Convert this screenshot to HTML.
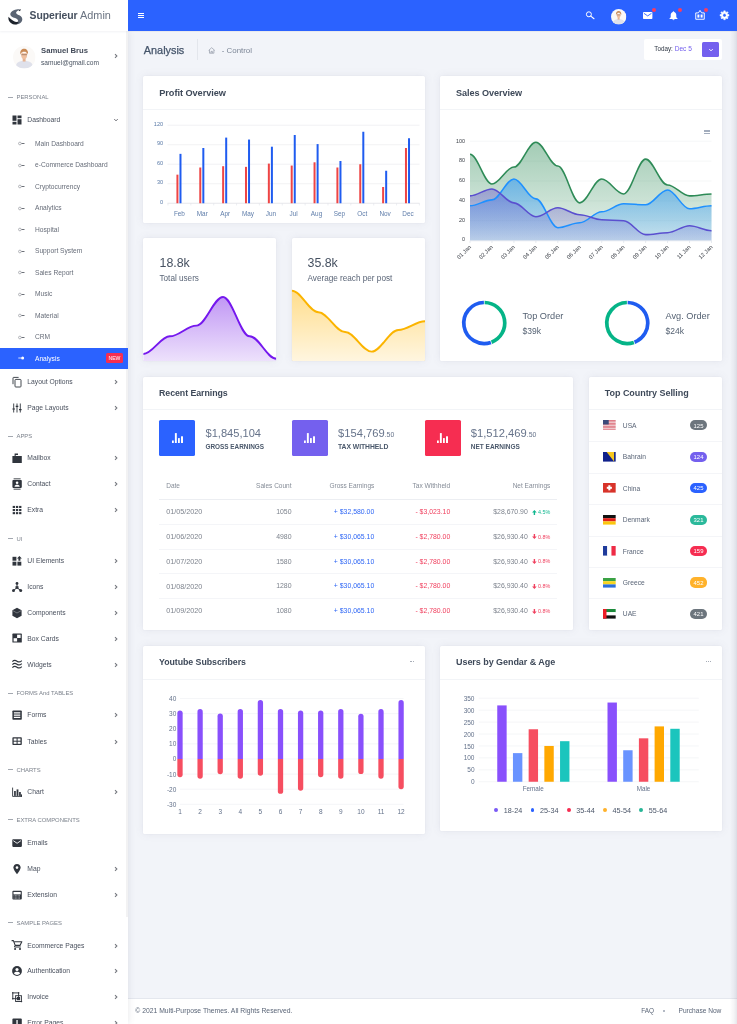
<!DOCTYPE html>
<html><head><meta charset="utf-8"><title>Superieur Admin</title>
<style>
html,body{margin:0;padding:0;}
body{width:737px;height:1024px;overflow:hidden;position:relative;background:#f2f4f9;font-family:"Liberation Sans", sans-serif;}
div{box-sizing:border-box;}
.card{position:absolute;background:#fff;border-radius:1.5px;box-shadow:0 0 9px rgba(105,112,140,0.10),0 0 1.5px rgba(105,112,140,0.10);}
svg{position:absolute;overflow:visible;}
</style></head><body><div id="root" style="position:absolute;left:0;top:0;width:737px;height:1024px;overflow:hidden;will-change:transform;">
<div style="position:absolute;left:729.50px;top:31.00px;width:7.50px;height:993.00px;background:linear-gradient(to right, rgba(60,60,90,0) 0%, rgba(60,60,90,0.03) 30%, rgba(60,60,90,0.05) 55%, rgba(60,60,90,0.13) 100%);"></div>
<div style="position:absolute;left:128.00px;top:998.00px;width:609.00px;height:26.00px;background:#fff;border-top:1px solid #e4e7ee;"></div>
<div style="position:absolute;top:1007px;font-size:6.8px;line-height:7px;color:#5a6577;white-space:nowrap;left:135.30px;">© 2021 Multi-Purpose Themes. All Rights Reserved.</div>
<div style="position:absolute;top:1007px;font-size:6.4px;line-height:7px;color:#5a6577;white-space:nowrap;left:641.30px;">FAQ</div>
<div style="position:absolute;left:663.40px;top:1010.40px;width:1.30px;height:1.30px;background:#a7aebb;border-radius:50%;"></div>
<div style="position:absolute;top:1007px;font-size:6.6px;line-height:7px;color:#5a6577;white-space:nowrap;left:678.50px;">Purchase Now</div>
<div style="position:absolute;left:729.50px;top:998.00px;width:7.50px;height:26.00px;background:linear-gradient(to right, rgba(60,60,90,0) 0%, rgba(60,60,90,0.03) 30%, rgba(60,60,90,0.05) 55%, rgba(60,60,90,0.13) 100%);"></div>
<div style="position:absolute;left:0.00px;top:31.00px;width:128.00px;height:993.00px;background:#fff;box-shadow:1px 0 6px rgba(90,95,115,0.12);"></div>
<div style="position:absolute;left:126.10px;top:31.00px;width:1.50px;height:885.80px;background:#f2f2f3;"></div>
<div style="position:absolute;left:128.00px;top:30.60px;width:609.00px;height:1.30px;background:rgba(110,100,80,0.07);"></div>
<div style="position:absolute;left:128.00px;top:0.00px;width:609.00px;height:30.80px;background:#2b62ff;"></div>
<div style="position:absolute;left:0.00px;top:0.00px;width:128.00px;height:30.80px;background:#fff;box-shadow:0 1px 2px rgba(120,130,160,0.10);"></div>
<svg style="left:8px;top:8.5px" width="15" height="16" viewBox="0 0 15 16">
<path d="M12.6 0.3 C8.6 -0.1 3.8 1.2 2.6 4.0 C1.6 6.4 3.6 7.9 6.2 8.8 C8.4 9.6 10.2 10.4 10.2 12.2 C10.2 13.8 8.8 14.8 7.0 15.2 C10.6 15.9 14.0 13.9 14.3 10.6 C14.6 7.6 11.8 6.4 9.6 5.4 C7.2 4.3 7.6 2.2 12.6 0.3 Z" fill="#5a6473"/>
<path d="M0.5 7.8 C-0.2 11.6 2.4 15.0 6.4 15.5 C8.8 15.8 10.4 14.4 10.5 12.4 C9.2 13.3 7.2 12.9 5.2 11.7 C3.2 10.5 1.6 9.4 0.5 7.8 Z" fill="#1d232c"/>
<path d="M10.4 1.5 L13.0 -0.1 L12.0 2.3 Z" fill="#2a313c"/>
</svg>
<div style="position:absolute;top:9px;font-size:10.9px;line-height:12px;color:#454f5e;white-space:nowrap;left:29.50px;"><b style="font-size:10.4px;letter-spacing:-0.05px">Superieur</b> <span style="color:#6b7482">Admin</span></div>
<div style="position:absolute;left:138.00px;top:13.10px;width:6.00px;height:1.10px;background:#fff;"></div>
<div style="position:absolute;left:138.00px;top:15.10px;width:6.00px;height:1.10px;background:#fff;"></div>
<div style="position:absolute;left:138.00px;top:17.10px;width:6.00px;height:1.10px;background:#fff;"></div>
<svg style="left:585px;top:10px" width="12" height="12" viewBox="0 0 12 12"><circle cx="3.9" cy="4.3" r="2.5" fill="none" stroke="#fff" stroke-width="1.0"/><path d="M5.8 6.1 L9.0 8.7" stroke="#fff" stroke-width="1.15" stroke-linecap="round"/></svg>
<svg style="left:611.10px;top:8.50px" width="15.40" height="15.40" viewBox="0 0 22 22">
<defs><clipPath id="av1"><circle cx="11" cy="11" r="11"/></clipPath></defs>
<g clip-path="url(#av1)"><rect width="22" height="22" fill="#fbf9f7"/>
<path d="M2.5 22 L3.2 18.2 C3.6 16.4 5.2 15.4 7.6 14.9 L9.4 14.4 H12.6 L14.4 14.9 C16.8 15.4 18.6 16.4 19 18.2 L19.8 22 Z" fill="#dfe1eb"/>
<rect x="9.5" y="11.4" width="2.8" height="3.8" fill="#e6b392"/>
<ellipse cx="10.9" cy="8.7" rx="2.9" ry="3.8" fill="#efc0a0"/>
<path d="M7.1 8.6 C6.6 4.6 8.6 2.8 10.9 2.8 C13.2 2.8 15.2 4.6 14.7 8.6 C14.2 6.6 13 5.9 10.9 5.9 C8.8 5.9 7.6 6.6 7.1 8.6 Z" fill="#c98a55"/>
<rect x="9.1" y="5.5" width="3.6" height="1.5" rx="0.6" fill="#fff" opacity="0.9"/>
<path d="M8.2 8.5 H13.6" stroke="#7a5844" stroke-width="0.55"/>
</g></svg>
<svg style="left:642.8px;top:12.1px" width="9.4" height="6.9" viewBox="0 0 9.4 6.9"><rect width="9.4" height="6.9" rx="0.7" fill="#fff"/><path d="M0.9 1.3 L4.7 3.9 L8.5 1.3" fill="none" stroke="#2b62ff" stroke-width="0.9"/></svg>
<svg style="left:668.8px;top:10.9px" width="9" height="9.2" viewBox="0 0 9 9.2"><path d="M4.5 0.2 C5 0.2 5.2 0.6 5.2 1.0 C6.6 1.4 7.3 2.6 7.3 4.2 L7.3 6.2 L8.5 7.4 L8.5 7.9 L0.5 7.9 L0.5 7.4 L1.7 6.2 L1.7 4.2 C1.7 2.6 2.4 1.4 3.8 1.0 C3.8 0.6 4 0.2 4.5 0.2 Z M3.5 8.3 L5.5 8.3 C5.5 8.9 5.05 9.2 4.5 9.2 C3.95 9.2 3.5 8.9 3.5 8.3 Z" fill="#fff"/></svg>
<svg style="left:694.6px;top:10px" width="10" height="10" viewBox="0 0 10 10"><path d="M0.75 2.9 H3.4 L5 0.4 L6.6 2.9 H9.25 V9.25 H0.75 Z" fill="none" stroke="#fff" stroke-width="0.95" stroke-linejoin="miter"/><rect x="2.4" y="4.5" width="2" height="3.1" fill="#fff"/><rect x="5.6" y="4.5" width="2" height="3.1" fill="#fff"/></svg>
<div style="position:absolute;left:651.9px;top:7.9px;width:4.2px;height:4.2px;border-radius:50%;background:#fb3c5f"></div>
<div style="position:absolute;left:677.9px;top:7.9px;width:4.2px;height:4.2px;border-radius:50%;background:#fb3c5f"></div>
<div style="position:absolute;left:703.9px;top:7.9px;width:4.2px;height:4.2px;border-radius:50%;background:#fb3c5f"></div>
<svg style="left:0;top:0" width="737" height="40"><path d="M728.93 14.53 L728.93 16.07 L727.74 16.08 L727.34 17.04 L728.18 17.89 L727.09 18.98 L726.24 18.14 L725.28 18.54 L725.27 19.73 L723.73 19.73 L723.72 18.54 L722.76 18.14 L721.91 18.98 L720.82 17.89 L721.66 17.04 L721.26 16.08 L720.07 16.07 L720.07 14.53 L721.26 14.52 L721.66 13.56 L720.82 12.71 L721.91 11.62 L722.76 12.46 L723.72 12.06 L723.73 10.87 L725.27 10.87 L725.28 12.06 L726.24 12.46 L727.09 11.62 L728.18 12.71 L727.34 13.56 L727.74 14.52 Z M726.20 15.30 A1.7 1.7 0 1 0 722.80 15.30 A1.7 1.7 0 1 0 726.20 15.30 Z" fill="#fff" fill-rule="evenodd" stroke="#fff" stroke-width="0.5" stroke-linejoin="round"/></svg>
<svg style="left:12.75px;top:45.75px" width="22.50" height="22.50" viewBox="0 0 22 22">
<defs><clipPath id="av2"><circle cx="11" cy="11" r="11"/></clipPath></defs>
<g clip-path="url(#av2)"><rect width="22" height="22" fill="#fbf9f7"/>
<path d="M2.5 22 L3.2 18.2 C3.6 16.4 5.2 15.4 7.6 14.9 L9.4 14.4 H12.6 L14.4 14.9 C16.8 15.4 18.6 16.4 19 18.2 L19.8 22 Z" fill="#dfe1eb"/>
<rect x="9.5" y="11.4" width="2.8" height="3.8" fill="#e6b392"/>
<ellipse cx="10.9" cy="8.7" rx="2.9" ry="3.8" fill="#efc0a0"/>
<path d="M7.1 8.6 C6.6 4.6 8.6 2.8 10.9 2.8 C13.2 2.8 15.2 4.6 14.7 8.6 C14.2 6.6 13 5.9 10.9 5.9 C8.8 5.9 7.6 6.6 7.1 8.6 Z" fill="#c98a55"/>
<rect x="9.1" y="5.5" width="3.6" height="1.5" rx="0.6" fill="#fff" opacity="0.9"/>
<path d="M8.2 8.5 H13.6" stroke="#7a5844" stroke-width="0.55"/>
</g></svg>
<div style="position:absolute;top:46px;font-size:7.7px;line-height:9px;color:#444c5a;white-space:nowrap;font-weight:bold;left:41.00px;">Samuel Brus</div>
<div style="position:absolute;top:59px;font-size:6.6px;line-height:7px;color:#4b5563;white-space:nowrap;left:41.00px;">samuel@gmail.com</div>
<svg style="left:114.30px;top:53.20px" width="4" height="6" viewBox="0 0 4 6"><path d="M1 1.2 L2.9 3 L1 4.8" fill="none" stroke="#74777e" stroke-width="1.05"/></svg>
<div style="position:absolute;left:8.30px;top:96.60px;width:4.50px;height:0.80px;background:#a3a8b0;"></div>
<div style="position:absolute;top:94px;font-size:5.9px;line-height:6px;color:#7d838d;white-space:nowrap;left:16.50px;">PERSONAL</div>
<svg style="left:11.50px;top:114.80px" width="10" height="10" viewBox="0 0 10 10" fill="#30353d"><rect x="0.5" y="0.5" width="4" height="5.3"/><rect x="0.5" y="6.8" width="4" height="2.7"/><rect x="5.5" y="0.5" width="4" height="2.7"/><rect x="5.5" y="4.2" width="4" height="5.3"/></svg>
<div style="position:absolute;top:116px;font-size:6.75px;line-height:7px;color:#4a515e;white-space:nowrap;left:27.30px;">Dashboard</div>
<svg style="left:113.00px;top:117.60px" width="6" height="4" viewBox="0 0 6 4"><path d="M1.2 1 L3 2.9 L4.8 1" fill="none" stroke="#5d6068" stroke-width="0.85"/></svg>
<svg style="left:17.7px;top:141.10px" width="7" height="5" viewBox="0 0 7 5"><circle cx="1.9" cy="2.5" r="1.35" fill="none" stroke="#8e9299" stroke-width="0.65"/><path d="M3.5 2.5 H6.5" stroke="#6c7078" stroke-width="1.0"/></svg>
<div style="position:absolute;top:140px;font-size:6.65px;line-height:7px;color:#676d79;white-space:nowrap;left:35.00px;">Main Dashboard</div>
<svg style="left:17.7px;top:162.60px" width="7" height="5" viewBox="0 0 7 5"><circle cx="1.9" cy="2.5" r="1.35" fill="none" stroke="#8e9299" stroke-width="0.65"/><path d="M3.5 2.5 H6.5" stroke="#6c7078" stroke-width="1.0"/></svg>
<div style="position:absolute;top:161px;font-size:6.65px;line-height:7px;color:#676d79;white-space:nowrap;left:35.00px;">e-Commerce Dashboard</div>
<svg style="left:17.7px;top:184.10px" width="7" height="5" viewBox="0 0 7 5"><circle cx="1.9" cy="2.5" r="1.35" fill="none" stroke="#8e9299" stroke-width="0.65"/><path d="M3.5 2.5 H6.5" stroke="#6c7078" stroke-width="1.0"/></svg>
<div style="position:absolute;top:183px;font-size:6.65px;line-height:7px;color:#676d79;white-space:nowrap;left:35.00px;">Cryptocurrency</div>
<svg style="left:17.7px;top:205.60px" width="7" height="5" viewBox="0 0 7 5"><circle cx="1.9" cy="2.5" r="1.35" fill="none" stroke="#8e9299" stroke-width="0.65"/><path d="M3.5 2.5 H6.5" stroke="#6c7078" stroke-width="1.0"/></svg>
<div style="position:absolute;top:204px;font-size:6.65px;line-height:7px;color:#676d79;white-space:nowrap;left:35.00px;">Analytics</div>
<svg style="left:17.7px;top:227.10px" width="7" height="5" viewBox="0 0 7 5"><circle cx="1.9" cy="2.5" r="1.35" fill="none" stroke="#8e9299" stroke-width="0.65"/><path d="M3.5 2.5 H6.5" stroke="#6c7078" stroke-width="1.0"/></svg>
<div style="position:absolute;top:226px;font-size:6.65px;line-height:7px;color:#676d79;white-space:nowrap;left:35.00px;">Hospital</div>
<svg style="left:17.7px;top:248.60px" width="7" height="5" viewBox="0 0 7 5"><circle cx="1.9" cy="2.5" r="1.35" fill="none" stroke="#8e9299" stroke-width="0.65"/><path d="M3.5 2.5 H6.5" stroke="#6c7078" stroke-width="1.0"/></svg>
<div style="position:absolute;top:247px;font-size:6.65px;line-height:7px;color:#676d79;white-space:nowrap;left:35.00px;">Support System</div>
<svg style="left:17.7px;top:270.10px" width="7" height="5" viewBox="0 0 7 5"><circle cx="1.9" cy="2.5" r="1.35" fill="none" stroke="#8e9299" stroke-width="0.65"/><path d="M3.5 2.5 H6.5" stroke="#6c7078" stroke-width="1.0"/></svg>
<div style="position:absolute;top:269px;font-size:6.65px;line-height:7px;color:#676d79;white-space:nowrap;left:35.00px;">Sales Report</div>
<svg style="left:17.7px;top:291.60px" width="7" height="5" viewBox="0 0 7 5"><circle cx="1.9" cy="2.5" r="1.35" fill="none" stroke="#8e9299" stroke-width="0.65"/><path d="M3.5 2.5 H6.5" stroke="#6c7078" stroke-width="1.0"/></svg>
<div style="position:absolute;top:290px;font-size:6.65px;line-height:7px;color:#676d79;white-space:nowrap;left:35.00px;">Music</div>
<svg style="left:17.7px;top:313.10px" width="7" height="5" viewBox="0 0 7 5"><circle cx="1.9" cy="2.5" r="1.35" fill="none" stroke="#8e9299" stroke-width="0.65"/><path d="M3.5 2.5 H6.5" stroke="#6c7078" stroke-width="1.0"/></svg>
<div style="position:absolute;top:312px;font-size:6.65px;line-height:7px;color:#676d79;white-space:nowrap;left:35.00px;">Material</div>
<svg style="left:17.7px;top:334.60px" width="7" height="5" viewBox="0 0 7 5"><circle cx="1.9" cy="2.5" r="1.35" fill="none" stroke="#8e9299" stroke-width="0.65"/><path d="M3.5 2.5 H6.5" stroke="#6c7078" stroke-width="1.0"/></svg>
<div style="position:absolute;top:333px;font-size:6.65px;line-height:7px;color:#676d79;white-space:nowrap;left:35.00px;">CRM</div>
<div style="position:absolute;left:0.00px;top:347.60px;width:128.00px;height:21.20px;background:#2b62ff;"></div>
<svg style="left:18px;top:356.40px" width="7" height="4" viewBox="0 0 7 4"><path d="M0.3 2 H3.4" stroke="#fff" stroke-width="0.8"/><circle cx="4.6" cy="2" r="1.5" fill="#fff"/></svg>
<div style="position:absolute;top:355px;font-size:6.65px;line-height:7px;color:#fff;white-space:nowrap;left:35.00px;">Analysis</div>
<div style="position:absolute;left:105.90px;top:353.30px;width:17.00px;height:9.30px;background:#f62d51;border-radius:1.5px;"></div>
<div style="position:absolute;top:355px;font-size:5.1px;line-height:6px;color:#fff;white-space:nowrap;left:-35.60px;width:300px;text-align:center;">NEW</div>
<svg style="left:11.50px;top:376.60px" width="10" height="10" viewBox="0 0 10 10" fill="#30353d"><path d="M1 7.2 L1 1 Q1 0.4 1.6 0.4 L6.6 0.4" fill="none" stroke="#30353d" stroke-width="0.9"/><rect x="3" y="2.4" width="6" height="7.6" rx="0.8" fill="none" stroke="#30353d" stroke-width="0.9"/></svg>
<div style="position:absolute;top:378px;font-size:6.75px;line-height:7px;color:#4a515e;white-space:nowrap;left:27.30px;">Layout Options</div>
<svg style="left:114.30px;top:379.00px" width="4" height="6" viewBox="0 0 4 6"><path d="M1 1.2 L2.9 3 L1 4.8" fill="none" stroke="#74777e" stroke-width="1.05"/></svg>
<svg style="left:11.50px;top:402.50px" width="10" height="10" viewBox="0 0 10 10" fill="#30353d"><path d="M1.7 0.5 V9.5 M5 0.5 V9.5 M8.3 0.5 V9.5" stroke="#30353d" stroke-width="0.9" fill="none"/><path d="M0.4 6 H3 M3.7 3.3 H6.3 M7 6.6 H9.6" stroke="#30353d" stroke-width="1.2" fill="none"/></svg>
<div style="position:absolute;top:404px;font-size:6.75px;line-height:7px;color:#4a515e;white-space:nowrap;left:27.30px;">Page Layouts</div>
<svg style="left:114.30px;top:404.90px" width="4" height="6" viewBox="0 0 4 6"><path d="M1 1.2 L2.9 3 L1 4.8" fill="none" stroke="#74777e" stroke-width="1.05"/></svg>
<div style="position:absolute;left:8.30px;top:435.70px;width:4.50px;height:0.80px;background:#a3a8b0;"></div>
<div style="position:absolute;top:433px;font-size:5.9px;line-height:6px;color:#7d838d;white-space:nowrap;left:16.50px;">APPS</div>
<svg style="left:11.50px;top:453.00px" width="10" height="10" viewBox="0 0 10 10" fill="#30353d"><path d="M0.4 3 H9.8 V10 H0.4 Z M2.6 3 V0.4 H6 V1.9 H3.7 V3 Z"/></svg>
<div style="position:absolute;top:454px;font-size:6.75px;line-height:7px;color:#4a515e;white-space:nowrap;left:27.30px;">Mailbox</div>
<svg style="left:114.30px;top:455.40px" width="4" height="6" viewBox="0 0 4 6"><path d="M1 1.2 L2.9 3 L1 4.8" fill="none" stroke="#74777e" stroke-width="1.05"/></svg>
<svg style="left:11.50px;top:479.00px" width="10" height="10" viewBox="0 0 10 10" fill="#30353d"><rect x="1.6" y="-0.6" width="7" height="0.9"/><rect x="0.4" y="1.1" width="9.4" height="7.8" rx="0.8"/><rect x="1.6" y="9.7" width="7" height="0.9"/><circle cx="5.1" cy="3.8" r="1.3" fill="#fff"/><path d="M2.5 7.7 C2.5 6.2 3.8 5.8 5.1 5.8 C6.4 5.8 7.7 6.2 7.7 7.7 Z" fill="#fff"/></svg>
<div style="position:absolute;top:480px;font-size:6.75px;line-height:7px;color:#4a515e;white-space:nowrap;left:27.30px;">Contact</div>
<svg style="left:114.30px;top:481.40px" width="4" height="6" viewBox="0 0 4 6"><path d="M1 1.2 L2.9 3 L1 4.8" fill="none" stroke="#74777e" stroke-width="1.05"/></svg>
<svg style="left:11.50px;top:505.00px" width="10" height="10" viewBox="0 0 10 10" fill="#30353d"><rect x="0.7" y="0.9" width="2.3" height="2.1"/><rect x="0.7" y="4.0" width="2.3" height="2.1"/><rect x="0.7" y="7.1000000000000005" width="2.3" height="2.1"/><rect x="3.9000000000000004" y="0.9" width="2.3" height="2.1"/><rect x="3.9000000000000004" y="4.0" width="2.3" height="2.1"/><rect x="3.9000000000000004" y="7.1000000000000005" width="2.3" height="2.1"/><rect x="7.1000000000000005" y="0.9" width="2.3" height="2.1"/><rect x="7.1000000000000005" y="4.0" width="2.3" height="2.1"/><rect x="7.1000000000000005" y="7.1000000000000005" width="2.3" height="2.1"/></svg>
<div style="position:absolute;top:506px;font-size:6.75px;line-height:7px;color:#4a515e;white-space:nowrap;left:27.30px;">Extra</div>
<svg style="left:114.30px;top:507.40px" width="4" height="6" viewBox="0 0 4 6"><path d="M1 1.2 L2.9 3 L1 4.8" fill="none" stroke="#74777e" stroke-width="1.05"/></svg>
<div style="position:absolute;left:8.30px;top:538.00px;width:4.50px;height:0.80px;background:#a3a8b0;"></div>
<div style="position:absolute;top:536px;font-size:5.9px;line-height:6px;color:#7d838d;white-space:nowrap;left:16.50px;">UI</div>
<svg style="left:11.50px;top:556.00px" width="10" height="10" viewBox="0 0 10 10" fill="#30353d"><rect x="0.5" y="0.8" width="3.9" height="3.9"/><rect x="0.5" y="5.7" width="3.9" height="3.9"/><rect x="5.4" y="5.7" width="3.9" height="3.9"/><path d="M7.4 0 L9.9 2.6 H8.4 V4.7 H6.4 V2.6 H4.9 Z"/></svg>
<div style="position:absolute;top:557px;font-size:6.75px;line-height:7px;color:#4a515e;white-space:nowrap;left:27.30px;">UI Elements</div>
<svg style="left:114.30px;top:558.40px" width="4" height="6" viewBox="0 0 4 6"><path d="M1 1.2 L2.9 3 L1 4.8" fill="none" stroke="#74777e" stroke-width="1.05"/></svg>
<svg style="left:11.50px;top:581.70px" width="10" height="10" viewBox="0 0 10 10" fill="#30353d"><circle cx="5" cy="1.4" r="1.4"/><circle cx="1.5" cy="8.4" r="1.5"/><circle cx="8.7" cy="8.4" r="1.5"/><path d="M5 1.5 V5.6 M5 5.8 L1.6 8.3 M5 5.8 L8.6 8.3" stroke="#30353d" stroke-width="1.0" fill="none"/><rect x="3.5" y="4.2" width="3" height="2.6"/></svg>
<div style="position:absolute;top:583px;font-size:6.75px;line-height:7px;color:#4a515e;white-space:nowrap;left:27.30px;">Icons</div>
<svg style="left:114.30px;top:584.10px" width="4" height="6" viewBox="0 0 4 6"><path d="M1 1.2 L2.9 3 L1 4.8" fill="none" stroke="#74777e" stroke-width="1.05"/></svg>
<svg style="left:11.50px;top:607.50px" width="10" height="10" viewBox="0 0 10 10" fill="#30353d"><path d="M5 -0.2 L9.6 2.3 V7.7 L5 10.2 L0.4 7.7 V2.3 Z"/><path d="M0.9 2.7 L5 5 L9.1 2.7" stroke="#fff" stroke-width="0.6" fill="none" opacity="0.55"/></svg>
<div style="position:absolute;top:609px;font-size:6.75px;line-height:7px;color:#4a515e;white-space:nowrap;left:27.30px;">Components</div>
<svg style="left:114.30px;top:609.90px" width="4" height="6" viewBox="0 0 4 6"><path d="M1 1.2 L2.9 3 L1 4.8" fill="none" stroke="#74777e" stroke-width="1.05"/></svg>
<svg style="left:11.50px;top:633.40px" width="10" height="10" viewBox="0 0 10 10" fill="#30353d"><rect x="0.4" y="0.6" width="9.4" height="9" rx="0.6"/><rect x="5.1" y="1.7" width="3.5" height="3.3" fill="#fff"/><rect x="1.6" y="5.2" width="3.5" height="3.3" fill="#fff"/></svg>
<div style="position:absolute;top:635px;font-size:6.75px;line-height:7px;color:#4a515e;white-space:nowrap;left:27.30px;">Box Cards</div>
<svg style="left:114.30px;top:635.80px" width="4" height="6" viewBox="0 0 4 6"><path d="M1 1.2 L2.9 3 L1 4.8" fill="none" stroke="#74777e" stroke-width="1.05"/></svg>
<svg style="left:11.50px;top:659.30px" width="10" height="10" viewBox="0 0 10 10" fill="#30353d"><path d="M0.4 2.6 C1.8 1.0 3.4 1.0 5 2.2 C6.6 3.4 8.2 3.2 9.8 1.6 M0.4 5.6 C1.8 4.0 3.4 4.0 5 5.2 C6.6 6.4 8.2 6.2 9.8 4.6 M0.4 8.6 C1.8 7.0 3.4 7.0 5 8.2 C6.6 9.4 8.2 9.2 9.8 7.6" stroke="#30353d" stroke-width="1.15" fill="none"/></svg>
<div style="position:absolute;top:661px;font-size:6.75px;line-height:7px;color:#4a515e;white-space:nowrap;left:27.30px;">Widgets</div>
<svg style="left:114.30px;top:661.70px" width="4" height="6" viewBox="0 0 4 6"><path d="M1 1.2 L2.9 3 L1 4.8" fill="none" stroke="#74777e" stroke-width="1.05"/></svg>
<div style="position:absolute;left:8.30px;top:692.60px;width:4.50px;height:0.80px;background:#a3a8b0;"></div>
<div style="position:absolute;top:690px;font-size:5.9px;line-height:6px;color:#7d838d;white-space:nowrap;left:16.50px;">FORMS And TABLES</div>
<svg style="left:11.50px;top:710.00px" width="10" height="10" viewBox="0 0 10 10" fill="#30353d"><rect x="0.4" y="0.5" width="9.4" height="9.2" rx="0.8"/><path d="M1.9 2.9 H8.3 M1.9 5.1 H8.3 M1.9 7.3 H8.3" stroke="#fff" stroke-width="1.15"/></svg>
<div style="position:absolute;top:711px;font-size:6.75px;line-height:7px;color:#4a515e;white-space:nowrap;left:27.30px;">Forms</div>
<svg style="left:114.30px;top:712.40px" width="4" height="6" viewBox="0 0 4 6"><path d="M1 1.2 L2.9 3 L1 4.8" fill="none" stroke="#74777e" stroke-width="1.05"/></svg>
<svg style="left:11.50px;top:736.20px" width="10" height="10" viewBox="0 0 10 10" fill="#30353d"><rect x="0.4" y="1.2" width="9.4" height="7.8" rx="0.8"/><rect x="1.7" y="2.5" width="2.9" height="2.2" fill="#fff"/><rect x="5.6" y="2.5" width="2.9" height="2.2" fill="#fff"/><rect x="1.7" y="5.7" width="2.9" height="2.1" fill="#fff"/><rect x="5.6" y="5.7" width="2.9" height="2.1" fill="#fff"/></svg>
<div style="position:absolute;top:738px;font-size:6.75px;line-height:7px;color:#4a515e;white-space:nowrap;left:27.30px;">Tables</div>
<svg style="left:114.30px;top:738.60px" width="4" height="6" viewBox="0 0 4 6"><path d="M1 1.2 L2.9 3 L1 4.8" fill="none" stroke="#74777e" stroke-width="1.05"/></svg>
<div style="position:absolute;left:8.30px;top:769.00px;width:4.50px;height:0.80px;background:#a3a8b0;"></div>
<div style="position:absolute;top:767px;font-size:5.9px;line-height:6px;color:#7d838d;white-space:nowrap;left:16.50px;">CHARTS</div>
<svg style="left:11.50px;top:787.00px" width="10" height="10" viewBox="0 0 10 10" fill="#30353d"><path d="M0.6 0.6 V9.4 H9.8" stroke="#30353d" stroke-width="0.9" fill="none"/><rect x="2.1" y="4.0" width="1.7" height="4.9"/><rect x="4.6" y="2.4" width="1.8" height="6.5"/><rect x="7.1" y="5.0" width="1.7" height="3.9"/><rect x="8.7" y="7.4" width="1.3" height="2.4"/></svg>
<div style="position:absolute;top:788px;font-size:6.75px;line-height:7px;color:#4a515e;white-space:nowrap;left:27.30px;">Chart</div>
<svg style="left:114.30px;top:789.40px" width="4" height="6" viewBox="0 0 4 6"><path d="M1 1.2 L2.9 3 L1 4.8" fill="none" stroke="#74777e" stroke-width="1.05"/></svg>
<div style="position:absolute;left:8.30px;top:819.40px;width:4.50px;height:0.80px;background:#a3a8b0;"></div>
<div style="position:absolute;top:817px;font-size:5.9px;line-height:6px;color:#7d838d;white-space:nowrap;left:16.50px;">EXTRA COMPONENTS</div>
<svg style="left:11.50px;top:837.70px" width="10" height="10" viewBox="0 0 10 10" fill="#30353d"><rect x="0.3" y="1.3" width="9.6" height="7.6" rx="0.8"/><path d="M1.3 2.7 L5.1 5.3 L8.9 2.7" stroke="#fff" stroke-width="0.9" fill="none"/></svg>
<div style="position:absolute;top:839px;font-size:6.75px;line-height:7px;color:#4a515e;white-space:nowrap;left:27.30px;">Emails</div>
<svg style="left:11.50px;top:863.60px" width="10" height="10" viewBox="0 0 10 10" fill="#30353d"><path d="M5 0 C7.2 0 8.6 1.6 8.6 3.6 C8.6 6 5 10.2 5 10.2 C5 10.2 1.4 6 1.4 3.6 C1.4 1.6 2.8 0 5 0 Z"/><circle cx="5" cy="3.6" r="1.3" fill="#fff"/></svg>
<div style="position:absolute;top:865px;font-size:6.75px;line-height:7px;color:#4a515e;white-space:nowrap;left:27.30px;">Map</div>
<svg style="left:114.30px;top:866.00px" width="4" height="6" viewBox="0 0 4 6"><path d="M1 1.2 L2.9 3 L1 4.8" fill="none" stroke="#74777e" stroke-width="1.05"/></svg>
<svg style="left:11.50px;top:889.50px" width="10" height="10" viewBox="0 0 10 10" fill="#30353d"><rect x="0.4" y="0.8" width="9.4" height="8.8" rx="1"/><rect x="1.5" y="2" width="7.2" height="2.4" fill="#fff"/><path d="M1.6 5.6 H8.6 M1.6 7 H8.6 M1.6 8.3 H8.6" stroke="#fff" stroke-width="0.55" stroke-dasharray="0.8 0.6"/></svg>
<div style="position:absolute;top:891px;font-size:6.75px;line-height:7px;color:#4a515e;white-space:nowrap;left:27.30px;">Extension</div>
<svg style="left:114.30px;top:891.90px" width="4" height="6" viewBox="0 0 4 6"><path d="M1 1.2 L2.9 3 L1 4.8" fill="none" stroke="#74777e" stroke-width="1.05"/></svg>
<div style="position:absolute;left:8.30px;top:922.30px;width:4.50px;height:0.80px;background:#a3a8b0;"></div>
<div style="position:absolute;top:920px;font-size:5.9px;line-height:6px;color:#7d838d;white-space:nowrap;left:16.50px;">SAMPLE PAGES</div>
<svg style="left:11.50px;top:940.20px" width="10" height="10" viewBox="0 0 10 10" fill="#30353d"><path d="M-0.4 0.6 H1.4 L3.2 5.4 H8 L9.8 1.8 H2.4" stroke="#30353d" stroke-width="1.1" fill="none" stroke-linejoin="round"/><path d="M3.2 5.4 L2.4 7 H8.8" stroke="#30353d" stroke-width="1.0" fill="none"/><circle cx="3.1" cy="9" r="1.05"/><circle cx="8" cy="9" r="1.05"/></svg>
<div style="position:absolute;top:942px;font-size:6.75px;line-height:7px;color:#4a515e;white-space:nowrap;left:27.30px;">Ecommerce Pages</div>
<svg style="left:114.30px;top:942.60px" width="4" height="6" viewBox="0 0 4 6"><path d="M1 1.2 L2.9 3 L1 4.8" fill="none" stroke="#74777e" stroke-width="1.05"/></svg>
<svg style="left:11.50px;top:966.00px" width="10" height="10" viewBox="0 0 10 10" fill="#30353d"><circle cx="5" cy="5" r="4.9"/><circle cx="5" cy="3.5" r="1.55" fill="#fff"/><path d="M1.9 7.3 C2.6 6.1 3.9 5.8 5 5.8 C6.1 5.8 7.4 6.1 8.1 7.3 C7.3 8.3 6.2 8.9 5 8.9 C3.8 8.9 2.7 8.3 1.9 7.3 Z" fill="#fff"/></svg>
<div style="position:absolute;top:967px;font-size:6.75px;line-height:7px;color:#4a515e;white-space:nowrap;left:27.30px;">Authentication</div>
<svg style="left:114.30px;top:968.40px" width="4" height="6" viewBox="0 0 4 6"><path d="M1 1.2 L2.9 3 L1 4.8" fill="none" stroke="#74777e" stroke-width="1.05"/></svg>
<svg style="left:11.50px;top:992.00px" width="10" height="10" viewBox="0 0 10 10" fill="#30353d"><rect x="0.8" y="0.9" width="5.8" height="5.8" fill="none" stroke="#30353d" stroke-width="0.95"/><rect x="3.6" y="3.7" width="5.8" height="5.8" fill="none" stroke="#30353d" stroke-width="0.95"/><rect x="4.9" y="5" width="3.2" height="3.2"/><path d="M0 0.9 H1.2 M0.8 0 V1.2 M6.2 0.9 H7.4 M6.6 0 V1.2 M0 6.7 H1.2 M0.8 6.3 V7.5 M9 9.5 H10.2 M9.4 9 V10.3" stroke="#30353d" stroke-width="0.8"/></svg>
<div style="position:absolute;top:993px;font-size:6.75px;line-height:7px;color:#4a515e;white-space:nowrap;left:27.30px;">Invoice</div>
<svg style="left:114.30px;top:994.40px" width="4" height="6" viewBox="0 0 4 6"><path d="M1 1.2 L2.9 3 L1 4.8" fill="none" stroke="#74777e" stroke-width="1.05"/></svg>
<svg style="left:11.50px;top:1017.60px" width="10" height="10" viewBox="0 0 10 10" fill="#30353d"><rect x="0.4" y="0.4" width="9.4" height="9.4" rx="1"/><rect x="4.4" y="2" width="1.3" height="4" fill="#fff"/><rect x="4.4" y="6.8" width="1.3" height="1.3" fill="#fff"/></svg>
<div style="position:absolute;top:1019px;font-size:6.75px;line-height:7px;color:#4a515e;white-space:nowrap;left:27.30px;">Error Pages</div>
<svg style="left:114.30px;top:1020.00px" width="4" height="6" viewBox="0 0 4 6"><path d="M1 1.2 L2.9 3 L1 4.8" fill="none" stroke="#74777e" stroke-width="1.05"/></svg>
<div style="position:absolute;top:44px;font-size:10.9px;line-height:12px;color:#44546a;white-space:nowrap;left:143.75px;-webkit-text-stroke:0.25px #44546a;">Analysis</div>
<div style="position:absolute;left:197.20px;top:38.75px;width:0.70px;height:21.25px;background:#e3e6ec;"></div>
<svg style="left:207.6px;top:46.6px" width="7.4" height="6.8" viewBox="0 0 7.4 6.8"><path d="M0.6 3.5 L3.7 0.7 L6.8 3.5 M1.5 2.9 V6.2 H5.9 V2.9 M3 6.2 V4.4 H4.4 V6.2" fill="none" stroke="#8b93a1" stroke-width="0.65" stroke-linejoin="round"/></svg>
<div style="position:absolute;top:46px;font-size:7.9px;line-height:9px;color:#7c8696;white-space:nowrap;left:221.75px;">- Control</div>
<div style="position:absolute;left:644.25px;top:39.25px;width:77.50px;height:20.75px;background:#fff;border-radius:2px;"></div>
<div style="position:absolute;top:45px;font-size:6.6px;line-height:7px;color:#3a4352;white-space:nowrap;left:654.25px;"><span style="font-size:6.3px;color:#2f3744">Today:</span> <span style="color:#7460ee">Dec 5</span></div>
<div style="position:absolute;left:702.00px;top:42.00px;width:17.00px;height:15.00px;background:#7460ee;border-radius:1.5px;"></div>
<svg style="left:707.50px;top:47.80px" width="6" height="4" viewBox="0 0 6 4"><path d="M1.2 1 L3 2.9 L4.8 1" fill="none" stroke="#fff" stroke-width="0.85"/></svg>
<div class="card" style="left:143.25px;top:76.25px;width:281.75px;height:146.25px;"></div>
<div style="position:absolute;top:88px;font-size:9.2px;line-height:10px;color:#3e4959;white-space:nowrap;font-weight:bold;letter-spacing:-0.05px;left:159.25px;">Profit Overview</div>
<div style="position:absolute;left:143.25px;top:109.25px;width:281.75px;height:0.70px;background:#f2f4f7;"></div>
<svg style="left:0;top:0" width="737" height="1024" viewBox="0 0 737 1024">
<line x1="167.5" x2="419.5" y1="125.25" y2="125.25" stroke="#e9e9ec" stroke-width="0.6"/>
<line x1="167.5" x2="419.5" y1="144.75" y2="144.75" stroke="#e9e9ec" stroke-width="0.6"/>
<line x1="167.5" x2="419.5" y1="164.25" y2="164.25" stroke="#e9e9ec" stroke-width="0.6"/>
<line x1="167.5" x2="419.5" y1="183.75" y2="183.75" stroke="#e9e9ec" stroke-width="0.6"/>
<line x1="167.5" x2="419.5" y1="203.25" y2="203.25" stroke="#dcdde2" stroke-width="0.7"/>
<line x1="168.00" x2="168.00" y1="203.25" y2="205.45" stroke="#dfe3ea" stroke-width="0.6"/>
<line x1="190.85" x2="190.85" y1="203.25" y2="205.45" stroke="#dfe3ea" stroke-width="0.6"/>
<line x1="213.71" x2="213.71" y1="203.25" y2="205.45" stroke="#dfe3ea" stroke-width="0.6"/>
<line x1="236.56" x2="236.56" y1="203.25" y2="205.45" stroke="#dfe3ea" stroke-width="0.6"/>
<line x1="259.42" x2="259.42" y1="203.25" y2="205.45" stroke="#dfe3ea" stroke-width="0.6"/>
<line x1="282.27" x2="282.27" y1="203.25" y2="205.45" stroke="#dfe3ea" stroke-width="0.6"/>
<line x1="305.13" x2="305.13" y1="203.25" y2="205.45" stroke="#dfe3ea" stroke-width="0.6"/>
<line x1="327.98" x2="327.98" y1="203.25" y2="205.45" stroke="#dfe3ea" stroke-width="0.6"/>
<line x1="350.84" x2="350.84" y1="203.25" y2="205.45" stroke="#dfe3ea" stroke-width="0.6"/>
<line x1="373.69" x2="373.69" y1="203.25" y2="205.45" stroke="#dfe3ea" stroke-width="0.6"/>
<line x1="396.55" x2="396.55" y1="203.25" y2="205.45" stroke="#dfe3ea" stroke-width="0.6"/>
<line x1="419.40" x2="419.40" y1="203.25" y2="205.45" stroke="#dfe3ea" stroke-width="0.6"/>
<rect x="176.43" y="174.65" width="2" height="28.60" fill="#ee4545"/>
<rect x="179.48" y="153.85" width="2" height="49.40" fill="#1f5cf0"/>
<rect x="199.28" y="167.50" width="2" height="35.75" fill="#ee4545"/>
<rect x="202.33" y="148.00" width="2" height="55.25" fill="#1f5cf0"/>
<rect x="222.14" y="166.20" width="2" height="37.05" fill="#ee4545"/>
<rect x="225.19" y="137.60" width="2" height="65.65" fill="#1f5cf0"/>
<rect x="244.99" y="166.85" width="2" height="36.40" fill="#ee4545"/>
<rect x="248.04" y="139.55" width="2" height="63.70" fill="#1f5cf0"/>
<rect x="267.85" y="163.60" width="2" height="39.65" fill="#ee4545"/>
<rect x="270.90" y="146.70" width="2" height="56.55" fill="#1f5cf0"/>
<rect x="290.70" y="165.55" width="2" height="37.70" fill="#ee4545"/>
<rect x="293.75" y="135.00" width="2" height="68.25" fill="#1f5cf0"/>
<rect x="313.55" y="162.30" width="2" height="40.95" fill="#ee4545"/>
<rect x="316.60" y="144.10" width="2" height="59.15" fill="#1f5cf0"/>
<rect x="336.41" y="167.50" width="2" height="35.75" fill="#ee4545"/>
<rect x="339.46" y="161.00" width="2" height="42.25" fill="#1f5cf0"/>
<rect x="359.26" y="164.25" width="2" height="39.00" fill="#ee4545"/>
<rect x="362.31" y="131.75" width="2" height="71.50" fill="#1f5cf0"/>
<rect x="382.12" y="187.00" width="2" height="16.25" fill="#ee4545"/>
<rect x="385.17" y="170.75" width="2" height="32.50" fill="#1f5cf0"/>
<rect x="404.97" y="148.00" width="2" height="55.25" fill="#ee4545"/>
<rect x="408.02" y="138.25" width="2" height="65.00" fill="#1f5cf0"/>
</svg>
<div style="position:absolute;top:121px;font-size:5.6px;line-height:6px;color:#5b7ba8;white-space:nowrap;right:573.80px;">120</div>
<div style="position:absolute;top:140px;font-size:5.6px;line-height:6px;color:#5b7ba8;white-space:nowrap;right:573.80px;">90</div>
<div style="position:absolute;top:160px;font-size:5.6px;line-height:6px;color:#5b7ba8;white-space:nowrap;right:573.80px;">60</div>
<div style="position:absolute;top:179px;font-size:5.6px;line-height:6px;color:#5b7ba8;white-space:nowrap;right:573.80px;">30</div>
<div style="position:absolute;top:199px;font-size:5.6px;line-height:6px;color:#5b7ba8;white-space:nowrap;right:573.80px;">0</div>
<div style="position:absolute;top:210px;font-size:6.4px;line-height:7px;color:#5f7daa;white-space:nowrap;left:29.43px;width:300px;text-align:center;">Feb</div>
<div style="position:absolute;top:210px;font-size:6.4px;line-height:7px;color:#5f7daa;white-space:nowrap;left:52.28px;width:300px;text-align:center;">Mar</div>
<div style="position:absolute;top:210px;font-size:6.4px;line-height:7px;color:#5f7daa;white-space:nowrap;left:75.14px;width:300px;text-align:center;">Apr</div>
<div style="position:absolute;top:210px;font-size:6.4px;line-height:7px;color:#5f7daa;white-space:nowrap;left:97.99px;width:300px;text-align:center;">May</div>
<div style="position:absolute;top:210px;font-size:6.4px;line-height:7px;color:#5f7daa;white-space:nowrap;left:120.85px;width:300px;text-align:center;">Jun</div>
<div style="position:absolute;top:210px;font-size:6.4px;line-height:7px;color:#5f7daa;white-space:nowrap;left:143.70px;width:300px;text-align:center;">Jul</div>
<div style="position:absolute;top:210px;font-size:6.4px;line-height:7px;color:#5f7daa;white-space:nowrap;left:166.55px;width:300px;text-align:center;">Aug</div>
<div style="position:absolute;top:210px;font-size:6.4px;line-height:7px;color:#5f7daa;white-space:nowrap;left:189.41px;width:300px;text-align:center;">Sep</div>
<div style="position:absolute;top:210px;font-size:6.4px;line-height:7px;color:#5f7daa;white-space:nowrap;left:212.26px;width:300px;text-align:center;">Oct</div>
<div style="position:absolute;top:210px;font-size:6.4px;line-height:7px;color:#5f7daa;white-space:nowrap;left:235.12px;width:300px;text-align:center;">Nov</div>
<div style="position:absolute;top:210px;font-size:6.4px;line-height:7px;color:#5f7daa;white-space:nowrap;left:257.97px;width:300px;text-align:center;">Dec</div>
<div class="card" style="left:143.25px;top:238.00px;width:133.00px;height:123.10px;"></div>
<div style="position:absolute;top:256px;font-size:12.4px;line-height:14px;color:#465161;white-space:nowrap;left:159.50px;">18.8k</div>
<div style="position:absolute;top:274px;font-size:8.17px;line-height:9px;color:#5a6577;white-space:nowrap;left:159.50px;">Total users</div>
<div class="card" style="left:291.75px;top:238.00px;width:133.25px;height:123.10px;"></div>
<div style="position:absolute;top:256px;font-size:12.4px;line-height:14px;color:#465161;white-space:nowrap;left:307.50px;">35.8k</div>
<div style="position:absolute;top:274px;font-size:8.19px;line-height:9px;color:#5a6577;white-space:nowrap;left:307.50px;">Average reach per post</div>
<svg style="left:0;top:0" width="737" height="1024" viewBox="0 0 737 1024">
<defs>
<linearGradient id="gp" x1="0" y1="0" x2="0" y2="1"><stop offset="0" stop-color="#7a22e8" stop-opacity="0.47"/><stop offset="1" stop-color="#7a22e8" stop-opacity="0.13"/></linearGradient>
<linearGradient id="gy" x1="0" y1="0" x2="0" y2="1"><stop offset="0" stop-color="#ffb400" stop-opacity="0.45"/><stop offset="1" stop-color="#ffb400" stop-opacity="0.12"/></linearGradient>
<clipPath id="c1"><rect x="143.25" y="238" width="133" height="123.1"/></clipPath>
<clipPath id="c2"><rect x="291.75" y="238" width="133.25" height="123.1"/></clipPath>
</defs>
<g clip-path="url(#c1)"><path d="M143.25 354.00 C152.56 354.00 160.54 336.30 169.85 336.30 C179.16 336.30 187.14 325.60 196.45 325.60 C205.76 325.60 213.74 297.00 223.05 297.00 C232.36 297.00 240.34 336.30 249.65 336.30 C258.96 336.30 266.94 358.70 276.25 358.70 L276.25 362 L143.25 362 Z" fill="url(#gp)"/><path d="M143.25 354.00 C152.56 354.00 160.54 336.30 169.85 336.30 C179.16 336.30 187.14 325.60 196.45 325.60 C205.76 325.60 213.74 297.00 223.05 297.00 C232.36 297.00 240.34 336.30 249.65 336.30 C258.96 336.30 266.94 358.70 276.25 358.70" fill="none" stroke="#7518ee" stroke-width="1.9"/></g>
<g clip-path="url(#c2)"><path d="M291.75 290.60 C301.08 290.60 309.07 312.30 318.40 312.30 C327.73 312.30 335.72 332.00 345.05 332.00 C354.38 332.00 362.37 351.60 371.70 351.60 C381.03 351.60 389.02 330.00 398.35 330.00 C407.68 330.00 415.67 321.30 425.00 321.30 L425.0 362 L291.75 362 Z" fill="url(#gy)"/><path d="M291.75 290.60 C301.08 290.60 309.07 312.30 318.40 312.30 C327.73 312.30 335.72 332.00 345.05 332.00 C354.38 332.00 362.37 351.60 371.70 351.60 C381.03 351.60 389.02 330.00 398.35 330.00 C407.68 330.00 415.67 321.30 425.00 321.30" fill="none" stroke="#fbb400" stroke-width="1.9"/></g>
</svg>
<div class="card" style="left:440.00px;top:76.00px;width:281.75px;height:285.10px;"></div>
<div style="position:absolute;top:88px;font-size:9.1px;line-height:10px;color:#3e4959;white-space:nowrap;font-weight:bold;letter-spacing:-0.05px;left:456.00px;">Sales Overview</div>
<div style="position:absolute;left:440.00px;top:109.30px;width:281.75px;height:0.70px;background:#f2f4f7;"></div>
<div style="position:absolute;left:703.50px;top:129.60px;width:6.50px;height:1.00px;background:#a3adbd;"></div>
<div style="position:absolute;left:703.50px;top:131.30px;width:6.50px;height:1.00px;background:#a3adbd;"></div>
<div style="position:absolute;left:703.50px;top:133.00px;width:6.50px;height:1.00px;background:#a3adbd;"></div>
<svg style="left:0;top:0" width="737" height="1024" viewBox="0 0 737 1024">
<defs>
<linearGradient id="g1" x1="0" y1="0" x2="0" y2="1"><stop offset="0" stop-color="#2e8b57" stop-opacity="0.44"/><stop offset="1" stop-color="#2e8b57" stop-opacity="0.12"/></linearGradient>
<linearGradient id="g2" x1="0" y1="0" x2="0" y2="1"><stop offset="0" stop-color="#1e90ff" stop-opacity="0.50"/><stop offset="1" stop-color="#1e90ff" stop-opacity="0.15"/></linearGradient>
<linearGradient id="g3" x1="0" y1="0" x2="0" y2="1"><stop offset="0" stop-color="#6a5acd" stop-opacity="0.46"/><stop offset="1" stop-color="#6a5acd" stop-opacity="0.15"/></linearGradient>
</defs>
<line x1="470" x2="711.5" y1="141.25" y2="141.25" stroke="#f0f1f4" stroke-width="0.6"/>
<line x1="470" x2="711.5" y1="161.12" y2="161.12" stroke="#f0f1f4" stroke-width="0.6"/>
<line x1="470" x2="711.5" y1="180.99" y2="180.99" stroke="#f0f1f4" stroke-width="0.6"/>
<line x1="470" x2="711.5" y1="200.86" y2="200.86" stroke="#f0f1f4" stroke-width="0.6"/>
<line x1="470" x2="711.5" y1="220.73" y2="220.73" stroke="#f0f1f4" stroke-width="0.6"/>
<path d="M470.00 154.17 C477.68 154.17 484.27 183.97 491.95 183.97 C499.64 183.97 506.22 167.08 513.91 167.08 C521.59 167.08 528.18 142.24 535.86 142.24 C543.55 142.24 550.13 166.09 557.82 166.09 C565.50 166.09 572.09 202.85 579.77 202.85 C587.46 202.85 594.04 179.00 601.73 179.00 C609.41 179.00 616.00 193.91 623.68 193.91 C631.37 193.91 637.95 159.13 645.64 159.13 C653.32 159.13 659.91 184.96 667.59 184.96 C675.27 184.96 681.86 195.89 689.55 195.89 C697.23 195.89 703.82 193.91 711.50 193.91 L711.5 240.6 L470 240.6 Z" fill="url(#g1)"/>
<path d="M470.00 205.83 C477.68 205.83 484.27 199.87 491.95 199.87 C499.64 199.87 506.22 179.00 513.91 179.00 C521.59 179.00 528.18 198.87 535.86 198.87 C543.55 198.87 550.13 227.68 557.82 227.68 C565.50 227.68 572.09 222.72 579.77 222.72 C587.46 222.72 594.04 211.79 601.73 211.79 C609.41 211.79 616.00 203.84 623.68 203.84 C631.37 203.84 637.95 204.83 645.64 204.83 C653.32 204.83 659.91 189.93 667.59 189.93 C675.27 189.93 681.86 208.81 689.55 208.81 C697.23 208.81 703.82 205.83 711.50 205.83 L711.5 240.6 L470 240.6 Z" fill="url(#g2)"/>
<path d="M470.00 195.89 C477.68 195.89 484.27 188.94 491.95 188.94 C499.64 188.94 506.22 202.85 513.91 202.85 C521.59 202.85 528.18 216.76 535.86 216.76 C543.55 216.76 550.13 207.81 557.82 207.81 C565.50 207.81 572.09 214.77 579.77 214.77 C587.46 214.77 594.04 219.74 601.73 219.74 C609.41 219.74 616.00 220.73 623.68 220.73 C631.37 220.73 637.95 234.64 645.64 234.64 C653.32 234.64 659.91 232.65 667.59 232.65 C675.27 232.65 681.86 225.70 689.55 225.70 C697.23 225.70 703.82 230.66 711.50 230.66 L711.5 240.6 L470 240.6 Z" fill="url(#g3)"/>
<path d="M470.00 154.17 C477.68 154.17 484.27 183.97 491.95 183.97 C499.64 183.97 506.22 167.08 513.91 167.08 C521.59 167.08 528.18 142.24 535.86 142.24 C543.55 142.24 550.13 166.09 557.82 166.09 C565.50 166.09 572.09 202.85 579.77 202.85 C587.46 202.85 594.04 179.00 601.73 179.00 C609.41 179.00 616.00 193.91 623.68 193.91 C631.37 193.91 637.95 159.13 645.64 159.13 C653.32 159.13 659.91 184.96 667.59 184.96 C675.27 184.96 681.86 195.89 689.55 195.89 C697.23 195.89 703.82 193.91 711.50 193.91" fill="none" stroke="#2e8b57" stroke-width="1.55"/>
<path d="M470.00 205.83 C477.68 205.83 484.27 199.87 491.95 199.87 C499.64 199.87 506.22 179.00 513.91 179.00 C521.59 179.00 528.18 198.87 535.86 198.87 C543.55 198.87 550.13 227.68 557.82 227.68 C565.50 227.68 572.09 222.72 579.77 222.72 C587.46 222.72 594.04 211.79 601.73 211.79 C609.41 211.79 616.00 203.84 623.68 203.84 C631.37 203.84 637.95 204.83 645.64 204.83 C653.32 204.83 659.91 189.93 667.59 189.93 C675.27 189.93 681.86 208.81 689.55 208.81 C697.23 208.81 703.82 205.83 711.50 205.83" fill="none" stroke="#1e90ff" stroke-width="1.55"/>
<path d="M470.00 195.89 C477.68 195.89 484.27 188.94 491.95 188.94 C499.64 188.94 506.22 202.85 513.91 202.85 C521.59 202.85 528.18 216.76 535.86 216.76 C543.55 216.76 550.13 207.81 557.82 207.81 C565.50 207.81 572.09 214.77 579.77 214.77 C587.46 214.77 594.04 219.74 601.73 219.74 C609.41 219.74 616.00 220.73 623.68 220.73 C631.37 220.73 637.95 234.64 645.64 234.64 C653.32 234.64 659.91 232.65 667.59 232.65 C675.27 232.65 681.86 225.70 689.55 225.70 C697.23 225.70 703.82 230.66 711.50 230.66" fill="none" stroke="#5a4fcf" stroke-width="1.55"/>
<line x1="470" x2="711.5" y1="240.79999999999998" y2="240.79999999999998" stroke="#d9dde5" stroke-width="0.6"/>
<line x1="470.00" x2="470.00" y1="240.6" y2="243.0" stroke="#d9dde5" stroke-width="0.6"/>
<text x="471.40" y="247.40" font-size="5.7" fill="#3c4048" text-anchor="end" transform="rotate(-45 471.40 247.40)" font-family='"Liberation Sans", sans-serif'>01 Jan</text>
<line x1="491.95" x2="491.95" y1="240.6" y2="243.0" stroke="#d9dde5" stroke-width="0.6"/>
<text x="493.35" y="247.40" font-size="5.7" fill="#3c4048" text-anchor="end" transform="rotate(-45 493.35 247.40)" font-family='"Liberation Sans", sans-serif'>02 Jan</text>
<line x1="513.91" x2="513.91" y1="240.6" y2="243.0" stroke="#d9dde5" stroke-width="0.6"/>
<text x="515.31" y="247.40" font-size="5.7" fill="#3c4048" text-anchor="end" transform="rotate(-45 515.31 247.40)" font-family='"Liberation Sans", sans-serif'>03 Jan</text>
<line x1="535.86" x2="535.86" y1="240.6" y2="243.0" stroke="#d9dde5" stroke-width="0.6"/>
<text x="537.26" y="247.40" font-size="5.7" fill="#3c4048" text-anchor="end" transform="rotate(-45 537.26 247.40)" font-family='"Liberation Sans", sans-serif'>04 Jan</text>
<line x1="557.82" x2="557.82" y1="240.6" y2="243.0" stroke="#d9dde5" stroke-width="0.6"/>
<text x="559.22" y="247.40" font-size="5.7" fill="#3c4048" text-anchor="end" transform="rotate(-45 559.22 247.40)" font-family='"Liberation Sans", sans-serif'>05 Jan</text>
<line x1="579.77" x2="579.77" y1="240.6" y2="243.0" stroke="#d9dde5" stroke-width="0.6"/>
<text x="581.17" y="247.40" font-size="5.7" fill="#3c4048" text-anchor="end" transform="rotate(-45 581.17 247.40)" font-family='"Liberation Sans", sans-serif'>06 Jan</text>
<line x1="601.73" x2="601.73" y1="240.6" y2="243.0" stroke="#d9dde5" stroke-width="0.6"/>
<text x="603.13" y="247.40" font-size="5.7" fill="#3c4048" text-anchor="end" transform="rotate(-45 603.13 247.40)" font-family='"Liberation Sans", sans-serif'>07 Jan</text>
<line x1="623.68" x2="623.68" y1="240.6" y2="243.0" stroke="#d9dde5" stroke-width="0.6"/>
<text x="625.08" y="247.40" font-size="5.7" fill="#3c4048" text-anchor="end" transform="rotate(-45 625.08 247.40)" font-family='"Liberation Sans", sans-serif'>08 Jan</text>
<line x1="645.64" x2="645.64" y1="240.6" y2="243.0" stroke="#d9dde5" stroke-width="0.6"/>
<text x="647.04" y="247.40" font-size="5.7" fill="#3c4048" text-anchor="end" transform="rotate(-45 647.04 247.40)" font-family='"Liberation Sans", sans-serif'>09 Jan</text>
<line x1="667.59" x2="667.59" y1="240.6" y2="243.0" stroke="#d9dde5" stroke-width="0.6"/>
<text x="668.99" y="247.40" font-size="5.7" fill="#3c4048" text-anchor="end" transform="rotate(-45 668.99 247.40)" font-family='"Liberation Sans", sans-serif'>10 Jan</text>
<line x1="689.55" x2="689.55" y1="240.6" y2="243.0" stroke="#d9dde5" stroke-width="0.6"/>
<text x="690.95" y="247.40" font-size="5.7" fill="#3c4048" text-anchor="end" transform="rotate(-45 690.95 247.40)" font-family='"Liberation Sans", sans-serif'>11 Jan</text>
<line x1="711.50" x2="711.50" y1="240.6" y2="243.0" stroke="#d9dde5" stroke-width="0.6"/>
<text x="712.90" y="247.40" font-size="5.7" fill="#3c4048" text-anchor="end" transform="rotate(-45 712.90 247.40)" font-family='"Liberation Sans", sans-serif'>12 Jan</text>
<text x="465" y="142.55" font-size="5.4" fill="#3c4048" text-anchor="end" font-family='"Liberation Sans", sans-serif'>100</text>
<text x="465" y="162.42" font-size="5.4" fill="#3c4048" text-anchor="end" font-family='"Liberation Sans", sans-serif'>80</text>
<text x="465" y="182.29" font-size="5.4" fill="#3c4048" text-anchor="end" font-family='"Liberation Sans", sans-serif'>60</text>
<text x="465" y="202.16" font-size="5.4" fill="#3c4048" text-anchor="end" font-family='"Liberation Sans", sans-serif'>40</text>
<text x="465" y="222.03" font-size="5.4" fill="#3c4048" text-anchor="end" font-family='"Liberation Sans", sans-serif'>20</text>
<text x="465" y="240.90" font-size="5.4" fill="#3c4048" text-anchor="end" font-family='"Liberation Sans", sans-serif'>0</text>
<path d="M484.61 302.50 A20.5 20.5 0 0 1 491.53 342.16" fill="none" stroke="#05b487" stroke-width="3.7"/>
<path d="M490.86 342.41 A20.5 20.5 0 1 1 483.89 302.50" fill="none" stroke="#1f5cf0" stroke-width="3.7"/>
<path d="M627.61 302.50 A20.5 20.5 0 0 1 634.53 342.16" fill="none" stroke="#1f5cf0" stroke-width="3.7"/>
<path d="M633.86 342.41 A20.5 20.5 0 1 1 626.89 302.50" fill="none" stroke="#05b487" stroke-width="3.7"/>
</svg>
<div style="position:absolute;top:311px;font-size:9.2px;line-height:10px;color:#556273;white-space:nowrap;left:522.50px;">Top Order</div>
<div style="position:absolute;top:326px;font-size:8.5px;line-height:10px;color:#556273;white-space:nowrap;left:522.50px;">$39k</div>
<div style="position:absolute;top:311px;font-size:9.2px;line-height:10px;color:#556273;white-space:nowrap;left:665.50px;">Avg. Order</div>
<div style="position:absolute;top:326px;font-size:8.5px;line-height:10px;color:#556273;white-space:nowrap;left:665.50px;">$24k</div>
<div class="card" style="left:143.00px;top:377.00px;width:430.00px;height:253.00px;"></div>
<div style="position:absolute;top:388px;font-size:8.8px;line-height:10px;color:#3e4959;white-space:nowrap;font-weight:bold;letter-spacing:-0.05px;left:159.00px;">Recent Earnings</div>
<div style="position:absolute;left:143.00px;top:409.40px;width:430.00px;height:0.70px;background:#f2f4f7;"></div>
<div style="position:absolute;left:159.25px;top:420.25px;width:35.75px;height:35.75px;background:#2b62ff;border-radius:1.6px;"></div>
<svg style="left:171.55px;top:433.30px" width="12" height="10" viewBox="0 0 12 10" fill="#fff"><rect x="0" y="7.5" width="1.8" height="2.5"/><rect x="2.9" y="0.1" width="1.9" height="9.9"/><rect x="6" y="5.1" width="1.8" height="4.9"/><rect x="9" y="3.3" width="2" height="6.7"/></svg>
<div style="position:absolute;left:291.75px;top:420.25px;width:35.75px;height:35.75px;background:#7460ee;border-radius:1.6px;"></div>
<svg style="left:304.05px;top:433.30px" width="12" height="10" viewBox="0 0 12 10" fill="#fff"><rect x="0" y="7.5" width="1.8" height="2.5"/><rect x="2.9" y="0.1" width="1.9" height="9.9"/><rect x="6" y="5.1" width="1.8" height="4.9"/><rect x="9" y="3.3" width="2" height="6.7"/></svg>
<div style="position:absolute;left:425.00px;top:420.25px;width:35.75px;height:35.75px;background:#f62d51;border-radius:1.6px;"></div>
<svg style="left:437.30px;top:433.30px" width="12" height="10" viewBox="0 0 12 10" fill="#fff"><rect x="0" y="7.5" width="1.8" height="2.5"/><rect x="2.9" y="0.1" width="1.9" height="9.9"/><rect x="6" y="5.1" width="1.8" height="4.9"/><rect x="9" y="3.3" width="2" height="6.7"/></svg>
<div style="position:absolute;top:427px;font-size:11.1px;line-height:12px;color:#66738a;white-space:nowrap;left:205.50px;">$1,845,104</div>
<div style="position:absolute;top:443px;font-size:6.4px;line-height:7px;color:#4a586b;white-space:nowrap;font-weight:bold;left:205.50px;">GROSS EARNINGS</div>
<div style="position:absolute;top:427px;font-size:11.2px;line-height:12px;color:#66738a;white-space:nowrap;left:338.00px;">$154,769<span style="font-size:6.9px">.50</span></div>
<div style="position:absolute;top:443px;font-size:6.8px;line-height:7px;color:#4a586b;white-space:nowrap;font-weight:bold;letter-spacing:-0.05px;left:338.00px;">TAX WITHHELD</div>
<div style="position:absolute;top:427px;font-size:11.2px;line-height:12px;color:#66738a;white-space:nowrap;left:470.75px;">$1,512,469<span style="font-size:6.9px">.50</span></div>
<div style="position:absolute;top:443px;font-size:6.5px;line-height:7px;color:#4a586b;white-space:nowrap;font-weight:bold;left:470.75px;">NET EARNINGS</div>
<div style="position:absolute;top:482px;font-size:6.5px;line-height:7px;color:#858c97;white-space:nowrap;left:166.25px;">Date</div>
<div style="position:absolute;top:482px;font-size:6.5px;line-height:7px;color:#858c97;white-space:nowrap;right:445.50px;">Sales Count</div>
<div style="position:absolute;top:482px;font-size:6.5px;line-height:7px;color:#858c97;white-space:nowrap;right:362.75px;">Gross Earnings</div>
<div style="position:absolute;top:482px;font-size:6.6px;line-height:7px;color:#858c97;white-space:nowrap;right:286.75px;">Tax Withheld</div>
<div style="position:absolute;top:482px;font-size:6.5px;line-height:7px;color:#858c97;white-space:nowrap;right:186.75px;">Net Earnings</div>
<div style="position:absolute;left:159.25px;top:499.00px;width:397.75px;height:0.80px;background:#eceef2;"></div>
<div style="position:absolute;top:507px;font-size:7.2px;line-height:9px;color:#7d838d;white-space:nowrap;left:166.25px;">01/05/2020</div>
<div style="position:absolute;top:508px;font-size:6.9px;line-height:7px;color:#7d838d;white-space:nowrap;right:445.50px;">1050</div>
<div style="position:absolute;top:508px;font-size:6.9px;line-height:7px;color:#2f67f5;white-space:nowrap;right:362.75px;">+ $32,580.00</div>
<div style="position:absolute;top:508px;font-size:6.9px;line-height:7px;color:#f0415f;white-space:nowrap;right:286.75px;">- $3,023.10</div>
<div style="position:absolute;top:508px;font-size:6.9px;line-height:7px;color:#7d838d;white-space:nowrap;right:209.25px;">$28,670.90</div>
<svg style="left:532.3000000000001px;top:509.55px" width="4.8" height="5" viewBox="0 0 4.8 5"><path d="M2.4 0.1 L4.7 2.6 H3.1 V4.9 H1.7 V2.6 H0.1 Z" fill="#10b78f"/></svg>
<div style="position:absolute;top:509px;font-size:5.4px;line-height:6px;color:#10b78f;white-space:nowrap;right:186.60px;">4.5%</div>
<div style="position:absolute;left:159.25px;top:523.95px;width:397.75px;height:0.70px;background:#f4f5f8;"></div>
<div style="position:absolute;top:532px;font-size:7.2px;line-height:9px;color:#7d838d;white-space:nowrap;left:166.25px;">01/06/2020</div>
<div style="position:absolute;top:533px;font-size:6.9px;line-height:7px;color:#7d838d;white-space:nowrap;right:445.50px;">4980</div>
<div style="position:absolute;top:533px;font-size:6.9px;line-height:7px;color:#2f67f5;white-space:nowrap;right:362.75px;">+ $30,065.10</div>
<div style="position:absolute;top:533px;font-size:6.9px;line-height:7px;color:#f0415f;white-space:nowrap;right:286.75px;">- $2,780.00</div>
<div style="position:absolute;top:533px;font-size:6.9px;line-height:7px;color:#7d838d;white-space:nowrap;right:209.25px;">$26,930.40</div>
<svg style="left:532.3000000000001px;top:534.30px" width="4.8" height="5" viewBox="0 0 4.8 5"><path d="M2.4 4.9 L4.7 2.4 H3.1 V0.1 H1.7 V2.4 H0.1 Z" fill="#f0415f"/></svg>
<div style="position:absolute;top:534px;font-size:5.4px;line-height:6px;color:#f0415f;white-space:nowrap;right:186.60px;">0.8%</div>
<div style="position:absolute;left:159.25px;top:548.70px;width:397.75px;height:0.70px;background:#f4f5f8;"></div>
<div style="position:absolute;top:557px;font-size:7.2px;line-height:9px;color:#7d838d;white-space:nowrap;left:166.25px;">01/07/2020</div>
<div style="position:absolute;top:558px;font-size:6.9px;line-height:7px;color:#7d838d;white-space:nowrap;right:445.50px;">1580</div>
<div style="position:absolute;top:558px;font-size:6.9px;line-height:7px;color:#2f67f5;white-space:nowrap;right:362.75px;">+ $30,065.10</div>
<div style="position:absolute;top:558px;font-size:6.9px;line-height:7px;color:#f0415f;white-space:nowrap;right:286.75px;">- $2,780.00</div>
<div style="position:absolute;top:558px;font-size:6.9px;line-height:7px;color:#7d838d;white-space:nowrap;right:209.25px;">$26,930.40</div>
<svg style="left:532.3000000000001px;top:559.05px" width="4.8" height="5" viewBox="0 0 4.8 5"><path d="M2.4 4.9 L4.7 2.4 H3.1 V0.1 H1.7 V2.4 H0.1 Z" fill="#f0415f"/></svg>
<div style="position:absolute;top:558px;font-size:5.4px;line-height:6px;color:#f0415f;white-space:nowrap;right:186.60px;">0.8%</div>
<div style="position:absolute;left:159.25px;top:573.45px;width:397.75px;height:0.70px;background:#f4f5f8;"></div>
<div style="position:absolute;top:582px;font-size:7.2px;line-height:9px;color:#7d838d;white-space:nowrap;left:166.25px;">01/08/2020</div>
<div style="position:absolute;top:582px;font-size:6.9px;line-height:7px;color:#7d838d;white-space:nowrap;right:445.50px;">1280</div>
<div style="position:absolute;top:582px;font-size:6.9px;line-height:7px;color:#2f67f5;white-space:nowrap;right:362.75px;">+ $30,065.10</div>
<div style="position:absolute;top:582px;font-size:6.9px;line-height:7px;color:#f0415f;white-space:nowrap;right:286.75px;">- $2,780.00</div>
<div style="position:absolute;top:582px;font-size:6.9px;line-height:7px;color:#7d838d;white-space:nowrap;right:209.25px;">$26,930.40</div>
<svg style="left:532.3000000000001px;top:583.80px" width="4.8" height="5" viewBox="0 0 4.8 5"><path d="M2.4 4.9 L4.7 2.4 H3.1 V0.1 H1.7 V2.4 H0.1 Z" fill="#f0415f"/></svg>
<div style="position:absolute;top:583px;font-size:5.4px;line-height:6px;color:#f0415f;white-space:nowrap;right:186.60px;">0.8%</div>
<div style="position:absolute;left:159.25px;top:598.20px;width:397.75px;height:0.70px;background:#f4f5f8;"></div>
<div style="position:absolute;top:606px;font-size:7.2px;line-height:9px;color:#7d838d;white-space:nowrap;left:166.25px;">01/09/2020</div>
<div style="position:absolute;top:607px;font-size:6.9px;line-height:7px;color:#7d838d;white-space:nowrap;right:445.50px;">1080</div>
<div style="position:absolute;top:607px;font-size:6.9px;line-height:7px;color:#2f67f5;white-space:nowrap;right:362.75px;">+ $30,065.10</div>
<div style="position:absolute;top:607px;font-size:6.9px;line-height:7px;color:#f0415f;white-space:nowrap;right:286.75px;">- $2,780.00</div>
<div style="position:absolute;top:607px;font-size:6.9px;line-height:7px;color:#7d838d;white-space:nowrap;right:209.25px;">$26,930.40</div>
<svg style="left:532.3000000000001px;top:608.55px" width="4.8" height="5" viewBox="0 0 4.8 5"><path d="M2.4 4.9 L4.7 2.4 H3.1 V0.1 H1.7 V2.4 H0.1 Z" fill="#f0415f"/></svg>
<div style="position:absolute;top:608px;font-size:5.4px;line-height:6px;color:#f0415f;white-space:nowrap;right:186.60px;">0.8%</div>
<div class="card" style="left:588.75px;top:377.00px;width:133.00px;height:253.00px;"></div>
<div style="position:absolute;top:388px;font-size:9.0px;line-height:10px;color:#3e4959;white-space:nowrap;font-weight:bold;letter-spacing:-0.05px;left:604.75px;">Top Country Selling</div>
<div style="position:absolute;left:588.75px;top:409.40px;width:133.00px;height:0.70px;background:#f2f4f7;"></div>
<svg style="left:603.2px;top:420.40px" width="12.7" height="9.6" viewBox="0 0 12.4 9.4"><rect width="12.4" height="9.4" fill="#f7f0f0"/><rect y="0.00" width="12.4" height="0.75" fill="#d85a68"/><rect y="1.45" width="12.4" height="0.75" fill="#d85a68"/><rect y="2.89" width="12.4" height="0.75" fill="#d85a68"/><rect y="4.34" width="12.4" height="0.75" fill="#d85a68"/><rect y="5.78" width="12.4" height="0.75" fill="#d85a68"/><rect y="7.23" width="12.4" height="0.75" fill="#d85a68"/><rect y="8.68" width="12.4" height="0.75" fill="#d85a68"/><rect width="5.6" height="4.4" fill="#3c4a7a"/></svg>
<div style="position:absolute;top:422px;font-size:6.7px;line-height:7px;color:#5a6577;white-space:nowrap;left:622.80px;">USA</div>
<div style="position:absolute;left:690.00px;top:420.20px;width:17.00px;height:10.20px;background:#6c757d;border-radius:5.1px;"></div>
<div style="position:absolute;top:423px;font-size:5.9px;line-height:6px;color:#fff;white-space:nowrap;left:548.50px;width:300px;text-align:center;">125</div>
<div style="position:absolute;left:588.75px;top:441.15px;width:133.00px;height:0.70px;background:#f4f5f8;"></div>
<svg style="left:603.2px;top:451.85px" width="12.7" height="9.6" viewBox="0 0 12.4 9.4"><rect width="12.4" height="9.4" fill="#10218b"/><path d="M3.6 0 H10.8 V9.4 Z" fill="#f7c81e"/></svg>
<div style="position:absolute;top:453px;font-size:6.7px;line-height:7px;color:#5a6577;white-space:nowrap;left:622.80px;">Bahrain</div>
<div style="position:absolute;left:690.00px;top:451.65px;width:17.00px;height:10.20px;background:#7460ee;border-radius:5.1px;"></div>
<div style="position:absolute;top:454px;font-size:5.9px;line-height:6px;color:#fff;white-space:nowrap;left:548.50px;width:300px;text-align:center;">124</div>
<div style="position:absolute;left:588.75px;top:472.60px;width:133.00px;height:0.70px;background:#f4f5f8;"></div>
<svg style="left:603.2px;top:483.30px" width="12.7" height="9.6" viewBox="0 0 12.4 9.4"><rect width="12.4" height="9.4" fill="#d8332a"/><rect x="5.2" y="2.2" width="2" height="5" fill="#fff"/><rect x="3.7" y="3.7" width="5" height="2" fill="#fff"/></svg>
<div style="position:absolute;top:485px;font-size:6.7px;line-height:7px;color:#5a6577;white-space:nowrap;left:622.80px;">China</div>
<div style="position:absolute;left:690.00px;top:483.10px;width:17.00px;height:10.20px;background:#2b62ff;border-radius:5.1px;"></div>
<div style="position:absolute;top:485px;font-size:5.9px;line-height:6px;color:#fff;white-space:nowrap;left:548.50px;width:300px;text-align:center;">425</div>
<div style="position:absolute;left:588.75px;top:504.05px;width:133.00px;height:0.70px;background:#f4f5f8;"></div>
<svg style="left:603.2px;top:514.75px" width="12.7" height="9.6" viewBox="0 0 12.4 9.4"><rect width="12.4" height="3.14" fill="#111"/><rect y="3.13" width="12.4" height="3.14" fill="#e0201a"/><rect y="6.26" width="12.4" height="3.14" fill="#fbc60e"/></svg>
<div style="position:absolute;top:516px;font-size:6.7px;line-height:7px;color:#5a6577;white-space:nowrap;left:622.80px;">Denmark</div>
<div style="position:absolute;left:690.00px;top:514.55px;width:17.00px;height:10.20px;background:#2bb99b;border-radius:5.1px;"></div>
<div style="position:absolute;top:517px;font-size:5.9px;line-height:6px;color:#fff;white-space:nowrap;left:548.50px;width:300px;text-align:center;">321</div>
<div style="position:absolute;left:588.75px;top:535.50px;width:133.00px;height:0.70px;background:#f4f5f8;"></div>
<svg style="left:603.2px;top:546.20px" width="12.7" height="9.6" viewBox="0 0 12.4 9.4"><rect width="4.2" height="9.4" fill="#1f3b9b"/><rect x="4.13" width="4.2" height="9.4" fill="#fff"/><rect x="8.26" width="4.14" height="9.4" fill="#ee2b45"/></svg>
<div style="position:absolute;top:548px;font-size:6.7px;line-height:7px;color:#5a6577;white-space:nowrap;left:622.80px;">France</div>
<div style="position:absolute;left:690.00px;top:546.00px;width:17.00px;height:10.20px;background:#f62d51;border-radius:5.1px;"></div>
<div style="position:absolute;top:548px;font-size:5.9px;line-height:6px;color:#fff;white-space:nowrap;left:548.50px;width:300px;text-align:center;">159</div>
<div style="position:absolute;left:588.75px;top:566.95px;width:133.00px;height:0.70px;background:#f4f5f8;"></div>
<svg style="left:603.2px;top:577.65px" width="12.7" height="9.6" viewBox="0 0 12.4 9.4"><rect width="12.4" height="3.14" fill="#3aa244"/><rect y="3.13" width="12.4" height="3.14" fill="#f8d51f"/><rect y="6.26" width="12.4" height="3.14" fill="#2a6fdc"/></svg>
<div style="position:absolute;top:579px;font-size:6.7px;line-height:7px;color:#5a6577;white-space:nowrap;left:622.80px;">Greece</div>
<div style="position:absolute;left:690.00px;top:577.45px;width:17.00px;height:10.20px;background:#ffb22b;border-radius:5.1px;"></div>
<div style="position:absolute;top:580px;font-size:5.9px;line-height:6px;color:#fff;white-space:nowrap;left:548.50px;width:300px;text-align:center;">452</div>
<div style="position:absolute;left:588.75px;top:598.40px;width:133.00px;height:0.70px;background:#f4f5f8;"></div>
<svg style="left:603.2px;top:609.10px" width="12.7" height="9.6" viewBox="0 0 12.4 9.4"><rect width="12.4" height="3.14" fill="#1c8a3b"/><rect y="3.13" width="12.4" height="3.14" fill="#fff"/><rect y="6.26" width="12.4" height="3.14" fill="#111"/><rect width="3.4" height="9.4" fill="#ee1c25"/></svg>
<div style="position:absolute;top:610px;font-size:6.7px;line-height:7px;color:#5a6577;white-space:nowrap;left:622.80px;">UAE</div>
<div style="position:absolute;left:690.00px;top:608.90px;width:17.00px;height:10.20px;background:#6c757d;border-radius:5.1px;"></div>
<div style="position:absolute;top:611px;font-size:5.9px;line-height:6px;color:#fff;white-space:nowrap;left:548.50px;width:300px;text-align:center;">421</div>
<div class="card" style="left:143.00px;top:645.75px;width:282.00px;height:188.00px;"></div>
<div style="position:absolute;top:657px;font-size:8.8px;line-height:10px;color:#3e4959;white-space:nowrap;font-weight:bold;letter-spacing:-0.05px;left:159.00px;">Youtube Subscribers</div>
<div style="position:absolute;left:143.00px;top:678.75px;width:282.00px;height:0.70px;background:#f2f4f7;"></div>
<div style="position:absolute;left:409.70px;top:660.85px;width:1.00px;height:1.00px;background:#8a93a0;border-radius:50%;"></div>
<div style="position:absolute;left:411.35px;top:660.85px;width:1.00px;height:1.00px;background:#8a93a0;border-radius:50%;"></div>
<div style="position:absolute;left:413.00px;top:660.85px;width:1.00px;height:1.00px;background:#8a93a0;border-radius:50%;"></div>
<svg style="left:0;top:0" width="737" height="1024" viewBox="0 0 737 1024">
<line x1="180" x2="403.5" y1="698.50" y2="698.50" stroke="#eef0f4" stroke-width="0.6"/>
<line x1="180" x2="403.5" y1="713.62" y2="713.62" stroke="#eef0f4" stroke-width="0.6"/>
<line x1="180" x2="403.5" y1="728.75" y2="728.75" stroke="#eef0f4" stroke-width="0.6"/>
<line x1="180" x2="403.5" y1="743.88" y2="743.88" stroke="#eef0f4" stroke-width="0.6"/>
<line x1="180" x2="403.5" y1="759.00" y2="759.00" stroke="#eef0f4" stroke-width="0.6"/>
<line x1="180" x2="403.5" y1="774.12" y2="774.12" stroke="#eef0f4" stroke-width="0.6"/>
<line x1="180" x2="403.5" y1="789.25" y2="789.25" stroke="#eef0f4" stroke-width="0.6"/>
<line x1="180" x2="403.5" y1="804.38" y2="804.38" stroke="#eef0f4" stroke-width="0.6"/>
<path d="M177.35 759.0 V713.25 A2.65 2.65 0 0 1 182.65 713.25 V759.0 Z" fill="#8950fc"/>
<path d="M177.35 759.0 V774.50 A2.65 2.65 0 0 0 182.65 774.50 V759.0 Z" fill="#f64e60"/>
<path d="M197.45 759.0 V711.74 A2.65 2.65 0 0 1 202.75 711.74 V759.0 Z" fill="#8950fc"/>
<path d="M197.45 759.0 V776.01 A2.65 2.65 0 0 0 202.75 776.01 V759.0 Z" fill="#f64e60"/>
<path d="M217.55 759.0 V716.27 A2.65 2.65 0 0 1 222.85 716.27 V759.0 Z" fill="#8950fc"/>
<path d="M217.55 759.0 V771.48 A2.65 2.65 0 0 0 222.85 771.48 V759.0 Z" fill="#f64e60"/>
<path d="M237.65 759.0 V711.74 A2.65 2.65 0 0 1 242.95 711.74 V759.0 Z" fill="#8950fc"/>
<path d="M237.65 759.0 V776.01 A2.65 2.65 0 0 0 242.95 776.01 V759.0 Z" fill="#f64e60"/>
<path d="M257.75 759.0 V702.66 A2.65 2.65 0 0 1 263.05 702.66 V759.0 Z" fill="#8950fc"/>
<path d="M257.75 759.0 V772.99 A2.65 2.65 0 0 0 263.05 772.99 V759.0 Z" fill="#f64e60"/>
<path d="M277.85 759.0 V711.74 A2.65 2.65 0 0 1 283.15 711.74 V759.0 Z" fill="#8950fc"/>
<path d="M277.85 759.0 V791.14 A2.65 2.65 0 0 0 283.15 791.14 V759.0 Z" fill="#f64e60"/>
<path d="M297.95 759.0 V713.25 A2.65 2.65 0 0 1 303.25 713.25 V759.0 Z" fill="#8950fc"/>
<path d="M297.95 759.0 V788.11 A2.65 2.65 0 0 0 303.25 788.11 V759.0 Z" fill="#f64e60"/>
<path d="M318.05 759.0 V713.25 A2.65 2.65 0 0 1 323.35 713.25 V759.0 Z" fill="#8950fc"/>
<path d="M318.05 759.0 V774.50 A2.65 2.65 0 0 0 323.35 774.50 V759.0 Z" fill="#f64e60"/>
<path d="M338.15 759.0 V711.74 A2.65 2.65 0 0 1 343.45 711.74 V759.0 Z" fill="#8950fc"/>
<path d="M338.15 759.0 V776.01 A2.65 2.65 0 0 0 343.45 776.01 V759.0 Z" fill="#f64e60"/>
<path d="M358.25 759.0 V716.27 A2.65 2.65 0 0 1 363.55 716.27 V759.0 Z" fill="#8950fc"/>
<path d="M358.25 759.0 V771.48 A2.65 2.65 0 0 0 363.55 771.48 V759.0 Z" fill="#f64e60"/>
<path d="M378.35 759.0 V711.74 A2.65 2.65 0 0 1 383.65 711.74 V759.0 Z" fill="#8950fc"/>
<path d="M378.35 759.0 V776.01 A2.65 2.65 0 0 0 383.65 776.01 V759.0 Z" fill="#f64e60"/>
<path d="M398.45 759.0 V702.66 A2.65 2.65 0 0 1 403.75 702.66 V759.0 Z" fill="#8950fc"/>
<path d="M398.45 759.0 V786.60 A2.65 2.65 0 0 0 403.75 786.60 V759.0 Z" fill="#f64e60"/>
</svg>
<div style="position:absolute;top:695px;font-size:6.5px;line-height:7px;color:#63718a;white-space:nowrap;right:560.70px;">40</div>
<div style="position:absolute;top:710px;font-size:6.5px;line-height:7px;color:#63718a;white-space:nowrap;right:560.70px;">30</div>
<div style="position:absolute;top:725px;font-size:6.5px;line-height:7px;color:#63718a;white-space:nowrap;right:560.70px;">20</div>
<div style="position:absolute;top:740px;font-size:6.5px;line-height:7px;color:#63718a;white-space:nowrap;right:560.70px;">10</div>
<div style="position:absolute;top:755px;font-size:6.5px;line-height:7px;color:#63718a;white-space:nowrap;right:560.70px;">0</div>
<div style="position:absolute;top:771px;font-size:6.5px;line-height:7px;color:#63718a;white-space:nowrap;right:560.70px;">-10</div>
<div style="position:absolute;top:786px;font-size:6.5px;line-height:7px;color:#63718a;white-space:nowrap;right:560.70px;">-20</div>
<div style="position:absolute;top:801px;font-size:6.5px;line-height:7px;color:#63718a;white-space:nowrap;right:560.70px;">-30</div>
<div style="position:absolute;top:808px;font-size:6.5px;line-height:7px;color:#63718a;white-space:nowrap;left:30.00px;width:300px;text-align:center;">1</div>
<div style="position:absolute;top:808px;font-size:6.5px;line-height:7px;color:#63718a;white-space:nowrap;left:50.10px;width:300px;text-align:center;">2</div>
<div style="position:absolute;top:808px;font-size:6.5px;line-height:7px;color:#63718a;white-space:nowrap;left:70.20px;width:300px;text-align:center;">3</div>
<div style="position:absolute;top:808px;font-size:6.5px;line-height:7px;color:#63718a;white-space:nowrap;left:90.30px;width:300px;text-align:center;">4</div>
<div style="position:absolute;top:808px;font-size:6.5px;line-height:7px;color:#63718a;white-space:nowrap;left:110.40px;width:300px;text-align:center;">5</div>
<div style="position:absolute;top:808px;font-size:6.5px;line-height:7px;color:#63718a;white-space:nowrap;left:130.50px;width:300px;text-align:center;">6</div>
<div style="position:absolute;top:808px;font-size:6.5px;line-height:7px;color:#63718a;white-space:nowrap;left:150.60px;width:300px;text-align:center;">7</div>
<div style="position:absolute;top:808px;font-size:6.5px;line-height:7px;color:#63718a;white-space:nowrap;left:170.70px;width:300px;text-align:center;">8</div>
<div style="position:absolute;top:808px;font-size:6.5px;line-height:7px;color:#63718a;white-space:nowrap;left:190.80px;width:300px;text-align:center;">9</div>
<div style="position:absolute;top:808px;font-size:6.5px;line-height:7px;color:#63718a;white-space:nowrap;left:210.90px;width:300px;text-align:center;">10</div>
<div style="position:absolute;top:808px;font-size:6.5px;line-height:7px;color:#63718a;white-space:nowrap;left:231.00px;width:300px;text-align:center;">11</div>
<div style="position:absolute;top:808px;font-size:6.5px;line-height:7px;color:#63718a;white-space:nowrap;left:251.10px;width:300px;text-align:center;">12</div>
<div class="card" style="left:440.00px;top:645.75px;width:281.75px;height:185.00px;"></div>
<div style="position:absolute;top:657px;font-size:9.0px;line-height:10px;color:#3e4959;white-space:nowrap;font-weight:bold;letter-spacing:-0.05px;left:456.00px;">Users by Gendar &amp; Age</div>
<div style="position:absolute;left:440.00px;top:678.75px;width:281.75px;height:0.70px;background:#f2f4f7;"></div>
<div style="position:absolute;left:706.45px;top:660.85px;width:1.00px;height:1.00px;background:#8a93a0;border-radius:50%;"></div>
<div style="position:absolute;left:708.10px;top:660.85px;width:1.00px;height:1.00px;background:#8a93a0;border-radius:50%;"></div>
<div style="position:absolute;left:709.75px;top:660.85px;width:1.00px;height:1.00px;background:#8a93a0;border-radius:50%;"></div>
<svg style="left:0;top:0" width="737" height="1024" viewBox="0 0 737 1024">
<line x1="478.75" x2="698.75" y1="781.75" y2="781.75" stroke="#eef0f4" stroke-width="0.6"/>
<line x1="478.75" x2="698.75" y1="769.82" y2="769.82" stroke="#eef0f4" stroke-width="0.6"/>
<line x1="478.75" x2="698.75" y1="757.89" y2="757.89" stroke="#eef0f4" stroke-width="0.6"/>
<line x1="478.75" x2="698.75" y1="745.96" y2="745.96" stroke="#eef0f4" stroke-width="0.6"/>
<line x1="478.75" x2="698.75" y1="734.04" y2="734.04" stroke="#eef0f4" stroke-width="0.6"/>
<line x1="478.75" x2="698.75" y1="722.11" y2="722.11" stroke="#eef0f4" stroke-width="0.6"/>
<line x1="478.75" x2="698.75" y1="710.18" y2="710.18" stroke="#eef0f4" stroke-width="0.6"/>
<line x1="478.75" x2="698.75" y1="698.25" y2="698.25" stroke="#eef0f4" stroke-width="0.6"/>
<rect x="497.25" y="705.41" width="9.4" height="76.34" fill="#8950fc"/>
<rect x="512.95" y="753.12" width="9.4" height="28.63" fill="#6993ff"/>
<rect x="528.65" y="729.26" width="9.4" height="52.49" fill="#f64e60"/>
<rect x="544.35" y="745.96" width="9.4" height="35.79" fill="#ffa800"/>
<rect x="560.05" y="741.19" width="9.4" height="40.56" fill="#1bc5bd"/>
<rect x="607.50" y="702.54" width="9.4" height="79.21" fill="#8950fc"/>
<rect x="623.20" y="750.26" width="9.4" height="31.49" fill="#6993ff"/>
<rect x="638.90" y="738.33" width="9.4" height="43.42" fill="#f64e60"/>
<rect x="654.60" y="726.40" width="9.4" height="55.35" fill="#ffa800"/>
<rect x="670.30" y="728.79" width="9.4" height="52.96" fill="#1bc5bd"/>
</svg>
<div style="position:absolute;top:778px;font-size:6.5px;line-height:7px;color:#63718a;white-space:nowrap;right:262.50px;">0</div>
<div style="position:absolute;top:766px;font-size:6.5px;line-height:7px;color:#63718a;white-space:nowrap;right:262.50px;">50</div>
<div style="position:absolute;top:754px;font-size:6.5px;line-height:7px;color:#63718a;white-space:nowrap;right:262.50px;">100</div>
<div style="position:absolute;top:743px;font-size:6.5px;line-height:7px;color:#63718a;white-space:nowrap;right:262.50px;">150</div>
<div style="position:absolute;top:731px;font-size:6.5px;line-height:7px;color:#63718a;white-space:nowrap;right:262.50px;">200</div>
<div style="position:absolute;top:719px;font-size:6.5px;line-height:7px;color:#63718a;white-space:nowrap;right:262.50px;">250</div>
<div style="position:absolute;top:707px;font-size:6.5px;line-height:7px;color:#63718a;white-space:nowrap;right:262.50px;">300</div>
<div style="position:absolute;top:695px;font-size:6.5px;line-height:7px;color:#63718a;white-space:nowrap;right:262.50px;">350</div>
<div style="position:absolute;top:785px;font-size:6.3px;line-height:7px;color:#63718a;white-space:nowrap;left:383.25px;width:300px;text-align:center;">Female</div>
<div style="position:absolute;top:785px;font-size:6.3px;line-height:7px;color:#63718a;white-space:nowrap;left:493.50px;width:300px;text-align:center;">Male</div>
<div style="position:absolute;left:494.35px;top:808.40px;width:3.8px;height:3.8px;border-radius:50%;background:#7a5af5"></div>
<div style="position:absolute;top:806px;font-size:7.2px;line-height:9px;color:#4a5568;white-space:nowrap;left:503.75px;">18-24</div>
<div style="position:absolute;left:530.60px;top:808.40px;width:3.8px;height:3.8px;border-radius:50%;background:#2b62ff"></div>
<div style="position:absolute;top:806px;font-size:7.2px;line-height:9px;color:#4a5568;white-space:nowrap;left:540.00px;">25-34</div>
<div style="position:absolute;left:566.85px;top:808.40px;width:3.8px;height:3.8px;border-radius:50%;background:#f62d51"></div>
<div style="position:absolute;top:806px;font-size:7.2px;line-height:9px;color:#4a5568;white-space:nowrap;left:576.25px;">35-44</div>
<div style="position:absolute;left:603.10px;top:808.40px;width:3.8px;height:3.8px;border-radius:50%;background:#ffb22b"></div>
<div style="position:absolute;top:806px;font-size:7.2px;line-height:9px;color:#4a5568;white-space:nowrap;left:612.50px;">45-54</div>
<div style="position:absolute;left:639.35px;top:808.40px;width:3.8px;height:3.8px;border-radius:50%;background:#27b596"></div>
<div style="position:absolute;top:806px;font-size:7.2px;line-height:9px;color:#4a5568;white-space:nowrap;left:648.75px;">55-64</div>
</div></body></html>
